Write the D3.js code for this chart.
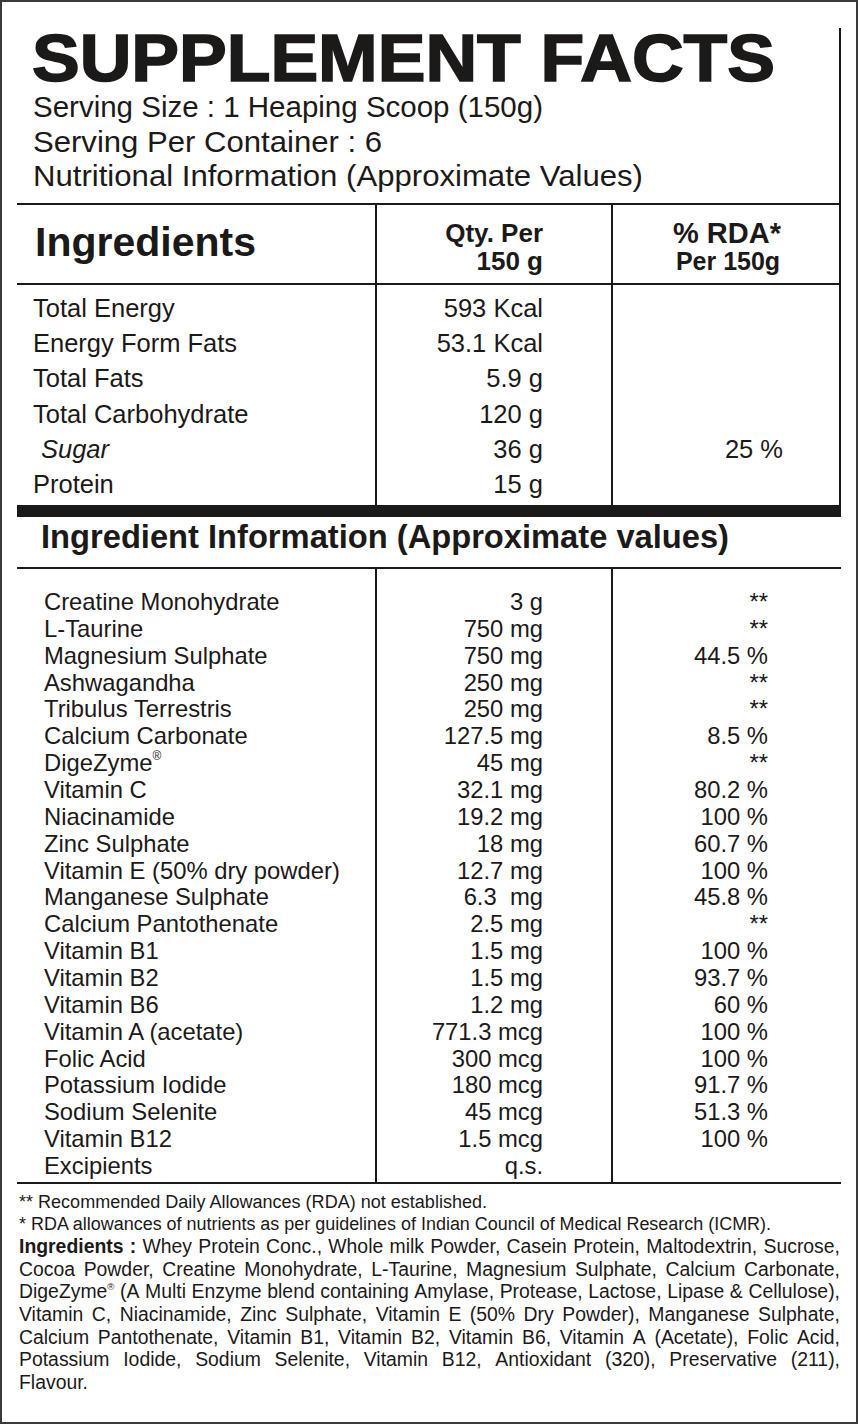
<!DOCTYPE html>
<html>
<head>
<meta charset="utf-8">
<script src="https://cdn.jsdelivr.net/npm/d3@7/dist/d3.min.js"></script>
<style>
  html, body { margin: 0; padding: 0; background: #fff; }
  svg { display: block; }
  text { font-family: "Liberation Sans", Arial, Helvetica, sans-serif; fill: #1c1919; white-space: pre; }
</style>
</head>
<body>
<script>
// ---------------- DATA ----------------
const titleText = "SUPPLEMENT FACTS";
const servingLines = [
  "Serving Size : 1 Heaping Scoop (150g)",
  "Serving Per Container : 6",
  "Nutritional Information (Approximate Values)"
];
const headerCols = ["Ingredients", ["Qty. Per", "150 g"], ["% RDA*", "Per 150g"]];

const macroNames = ["Total Energy", "Energy Form Fats", "Total Fats", "Total Carbohydrate", "Sugar", "Protein"];
const macroQty   = ["593 Kcal", "53.1 Kcal", "5.9 g", "120 g", "36 g", "15 g"];
const macroRda   = ["", "", "", "", "25 %", ""];
const macroItalic = [false, false, false, false, true, false];

const sectionTitle = "Ingredient Information (Approximate values)";

const ingNames = [
  "Creatine Monohydrate", "L-Taurine", "Magnesium Sulphate", "Ashwagandha", "Tribulus Terrestris",
  "Calcium Carbonate", "DigeZyme®", "Vitamin C", "Niacinamide", "Zinc Sulphate",
  "Vitamin E (50% dry powder)", "Manganese Sulphate", "Calcium Pantothenate", "Vitamin B1", "Vitamin B2",
  "Vitamin B6", "Vitamin A (acetate)", "Folic Acid", "Potassium Iodide", "Sodium Selenite",
  "Vitamin B12", "Excipients"
];
const ingQty = [
  "3 g", "750 mg", "750 mg", "250 mg", "250 mg",
  "127.5 mg", "45 mg", "32.1 mg", "19.2 mg", "18 mg",
  "12.7 mg", "6.3  mg", "2.5 mg", "1.5 mg", "1.5 mg",
  "1.2 mg", "771.3 mcg", "300 mcg", "180 mcg", "45 mcg",
  "1.5 mcg", "q.s."
];
const ingRda = [
  "**", "**", "44.5 %", "**", "**",
  "8.5 %", "**", "80.2 %", "100 %", "60.7 %",
  "100 %", "45.8 %", "**", "100 %", "93.7 %",
  "60 %", "100 %", "100 %", "91.7 %", "51.3 %",
  "100 %", ""
];

const footnotes = [
  "** Recommended Daily Allowances (RDA) not established.",
  "* RDA allowances of nutrients as per guidelines of Indian Council of Medical Research (ICMR)."
];
const ingredientsLabel = "Ingredients :";
const ingredientsLines = [
  "Whey Protein Conc., Whole milk Powder, Casein Protein, Maltodextrin, Sucrose,",
  "Cocoa Powder, Creatine Monohydrate, L-Taurine, Magnesium Sulphate, Calcium Carbonate,",
  "DigeZyme® (A Multi Enzyme blend containing Amylase, Protease, Lactose, Lipase & Cellulose),",
  "Vitamin C, Niacinamide, Zinc Sulphate, Vitamin E (50% Dry Powder), Manganese Sulphate,",
  "Calcium Pantothenate, Vitamin B1, Vitamin B2, Vitamin B6, Vitamin A (Acetate), Folic Acid,",
  "Potassium Iodide, Sodium Selenite, Vitamin B12, Antioxidant (320), Preservative (211),",
  "Flavour."
];

// ---------------- LAYOUT ----------------
const W = 858, H = 1424;
const L = 17, R = 840;
const colX = [L, 376, 612, R];
const ink = "#1c1919";

const svg = d3.select("body").append("svg").attr("width", W).attr("height", H);
svg.append("rect").attr("width", W).attr("height", H).attr("fill", "#fff");
svg.append("rect").attr("x", 1).attr("y", 1).attr("width", W - 2).attr("height", H - 2)
  .attr("fill", "none").attr("stroke", "#3a3a3a").attr("stroke-width", 2);

// helper: write text with optional ® superscript
function addText(g, str, opts) {
  const t = g.append("text")
    .attr("x", opts.x).attr("y", opts.y)
    .attr("text-anchor", opts.anchor || "start")
    .attr("font-size", opts.size)
    .attr("font-weight", opts.bold ? "bold" : "normal")
    .attr("font-style", opts.italic ? "italic" : "normal");
  if (str.includes("®")) {
    const parts = str.split("®");
    t.append("tspan").text(parts[0]);
    t.append("tspan").attr("font-size", opts.size * 0.5).attr("dy", -opts.size * 0.45).text("®");
    if (parts[1]) t.append("tspan").attr("dy", opts.size * 0.45).text(parts[1]);
  } else {
    t.text(str);
  }
  if (opts.fit) t.attr("textLength", opts.fit).attr("lengthAdjust", opts.adjust || "spacingAndGlyphs");
  return t;
}

// ---------------- TITLE & SERVING ----------------
addText(svg, titleText, { x: 32, y: 81, size: 66, bold: true, fit: 743 })
  .attr("stroke", ink).attr("stroke-width", 1.6);

const yServ = d3.scalePoint().domain(d3.range(servingLines.length)).range([117, 186]);
const servFits = [510, 349, 610];
servingLines.forEach((s, i) => addText(svg, s, { x: 33, y: yServ(i), size: 30, fit: servFits[i] }));

// ---------------- RULES ----------------
const lines = svg.append("g").attr("stroke", ink);
lines.append("line").attr("x1", R).attr("x2", R).attr("y1", 28).attr("y2", 505).attr("stroke-width", 2);
[204, 284, 568, 1183].forEach(y =>
  lines.append("line").attr("x1", L).attr("x2", R + 1).attr("y1", y).attr("y2", y).attr("stroke-width", 2.2));
lines.append("rect").attr("x", L).attr("y", 505).attr("width", R - L + 1).attr("height", 12)
  .attr("fill", ink).attr("stroke", "none");
[colX[1], colX[2]].forEach(x => {
  lines.append("line").attr("x1", x).attr("x2", x).attr("y1", 204).attr("y2", 505).attr("stroke-width", 2);
  lines.append("line").attr("x1", x).attr("x2", x).attr("y1", 568).attr("y2", 1183).attr("stroke-width", 2);
});

// ---------------- HEADER ----------------
addText(svg, headerCols[0], { x: 35, y: 256, size: 41, bold: true });
addText(svg, headerCols[1][0], { x: 543, y: 242, size: 26, bold: true, anchor: "end" });
addText(svg, headerCols[1][1], { x: 543, y: 270, size: 26, bold: true, anchor: "end" });
addText(svg, headerCols[2][0], { x: 727, y: 243, size: 29, bold: true, anchor: "middle" });
addText(svg, headerCols[2][1], { x: 728, y: 270, size: 25, bold: true, anchor: "middle" });

// ---------------- MACRO TABLE ----------------
const yMacro = d3.scalePoint().domain(d3.range(macroNames.length)).range([317, 493]);
const gMacro = svg.append("g");
macroNames.forEach((n, i) => {
  addText(gMacro, n, { x: macroItalic[i] ? 41 : 33, y: yMacro(i), size: 25.5, italic: macroItalic[i] });
  addText(gMacro, macroQty[i], { x: 543, y: yMacro(i), size: 25.5, anchor: "end" });
  if (macroRda[i]) addText(gMacro, macroRda[i], { x: 783, y: yMacro(i), size: 25.5, anchor: "end" });
});

// ---------------- INGREDIENT TABLE ----------------
addText(svg, sectionTitle, { x: 41, y: 548, size: 33, bold: true, fit: 688 });

const yIng = d3.scalePoint().domain(d3.range(ingNames.length)).range([610, 1174]);
const gIng = svg.append("g");
ingNames.forEach((n, i) => {
  addText(gIng, n, { x: 44, y: yIng(i), size: 23.8 });
  addText(gIng, ingQty[i], { x: 543, y: yIng(i), size: 23.8, anchor: "end" });
  if (ingRda[i]) addText(gIng, ingRda[i], { x: 768, y: yIng(i), size: 23.8, anchor: "end" });
});

// ---------------- FOOTNOTES ----------------
const fnFits = [468, 752];
footnotes.forEach((f, i) => addText(svg, f, { x: 19, y: [1208, 1230][i], size: 18, fit: fnFits[i], adjust: "spacingAndGlyphs" }));

const yPara = d3.scalePoint().domain(d3.range(ingredientsLines.length)).range([1253, 1389]);
const gPara = svg.append("g");
const paraSize = 19.4;

function layoutLine(tokens, y, justify) {
  const nodes = tokens.map(tk => addText(gPara, tk.w, { x: 0, y: y, size: paraSize, bold: tk.bold }));
  const widths = nodes.map(n => n.node().getComputedTextLength());
  const total = d3.sum(widths);
  const target = R - 19;
  const minGap = paraSize * 0.22;
  let gap = tokens.length > 1 ? (target - total) / (tokens.length - 1) : 0;
  if (!justify) gap = paraSize * 0.28;
  if (justify && gap < minGap) {
    const scale = (target - minGap * (tokens.length - 1)) / total;
    nodes.forEach((n, k) => { widths[k] = widths[k] * scale; n.attr("textLength", widths[k]).attr("lengthAdjust", "spacingAndGlyphs"); });
    gap = minGap;
  }
  let x = 19;
  nodes.forEach((n, k) => { n.attr("x", x); x += widths[k] + gap; });
}

ingredientsLines.forEach((line, i) => {
  let tokens = line.split(/\s+/).map(w => ({ w, bold: false }));
  if (i === 0) tokens = ingredientsLabel.split(" ").map(w => ({ w, bold: true })).concat(tokens);
  layoutLine(tokens, yPara(i), i < ingredientsLines.length - 1);
});
</script>
</body>
</html>
